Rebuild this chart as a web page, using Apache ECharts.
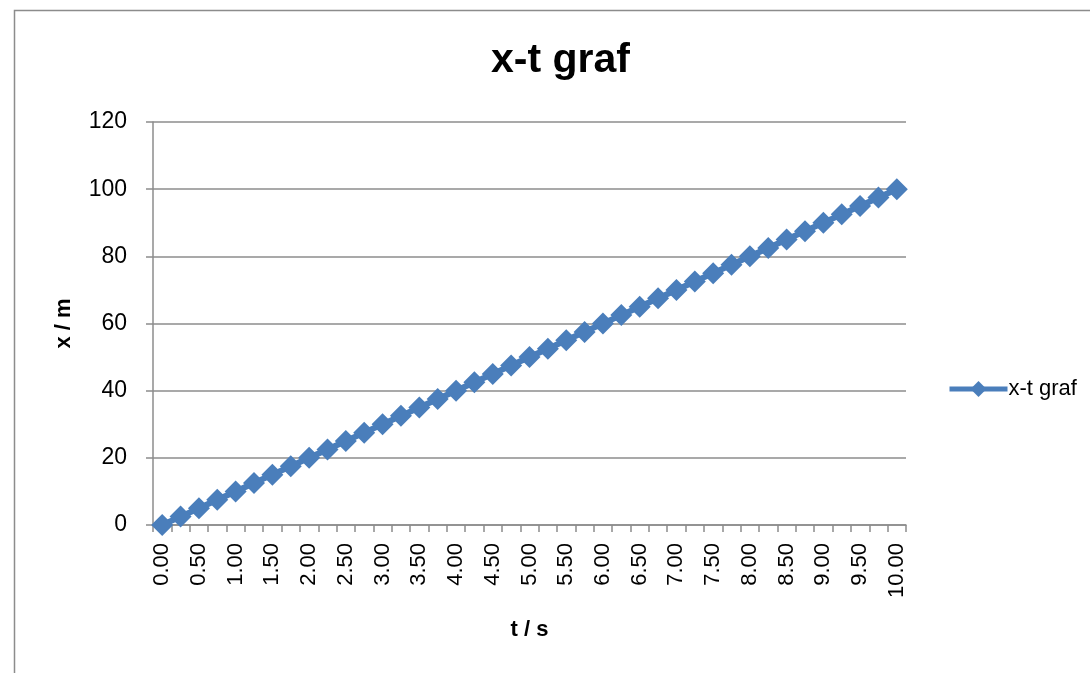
<!DOCTYPE html>
<html>
<head>
<meta charset="utf-8">
<script src="https://cdn.jsdelivr.net/npm/echarts@6/dist/echarts.min.js"></script>
<style>
html,body{margin:0;padding:0;background:#fff;}
#chart{width:1090px;height:673px;}
</style>
</head>
<body>
<div id="chart"></div>
<script>
// Data
const timeLabels = ["0.00","0.25","0.50","0.75","1.00","1.25","1.50","1.75","2.00","2.25","2.50","2.75","3.00","3.25","3.50","3.75","4.00","4.25","4.50","4.75","5.00","5.25","5.50","5.75","6.00","6.25","6.50","6.75","7.00","7.25","7.50","7.75","8.00","8.25","8.50","8.75","9.00","9.25","9.50","9.75","10.00"];
const positionValues = [0,2.5,5,7.5,10,12.5,15,17.5,20,22.5,25,27.5,30,32.5,35,37.5,40,42.5,45,47.5,50,52.5,55,57.5,60,62.5,65,67.5,70,72.5,75,77.5,80,82.5,85,87.5,90,92.5,95,97.5,100];
const seriesName = "x-t graf";
const chartTitle = "x-t graf";
const yAxisName = "x / m";
const xAxisName = "t / s";

const FONT = "'Liberation Sans', Arial, sans-serif";
const chart = echarts.init(document.getElementById('chart'), null, {renderer: 'canvas'});
chart.setOption({
  backgroundColor: '#fff',
  animation: false,
  graphic: [{
    type: 'rect',
    shape: {x: 14.5, y: 10.5, width: 1200, height: 800},
    style: {fill: 'none', stroke: '#8c8c8c', lineWidth: 1.5},
    silent: true
  }],
  title: {
    text: chartTitle,
    left: 486, top: 35,
    textStyle: {fontFamily: FONT, fontWeight: 'bold', fontSize: 41, color: '#000'}
  },
  legend: {
    data: [seriesName],
    left: 942, top: 373,
    itemWidth: 58, itemHeight: 20, itemGap: 4,
    lineStyle: {width: 5},
    textStyle: {fontFamily: FONT, fontSize: 22, color: '#000', padding: [0,0,0,-4]}
  },
  grid: {left: 153, top: 122, right: 184, bottom: 148, containLabel: false},
  xAxis: {
    type: 'category',
    data: timeLabels,
    boundaryGap: true,
    name: xAxisName,
    nameLocation: 'middle',
    nameGap: 94,
    nameTextStyle: {fontFamily: FONT, fontWeight: 'bold', fontSize: 22, color: '#000'},
    axisLine: {lineStyle: {color: '#8c8c8c', width: 1.5}},
    axisTick: {show: true, interval: 0, length: 7, lineStyle: {color: '#8c8c8c', width: 1.5}},
    axisLabel: {interval: 1, rotate: 90, margin: 18, fontFamily: FONT, fontSize: 22, color: '#000'},
    splitLine: {show: false}
  },
  yAxis: {
    type: 'value',
    min: 0, max: 120, interval: 20,
    name: yAxisName,
    nameLocation: 'middle',
    nameGap: 78,
    nameRotate: 90,
    nameTextStyle: {fontFamily: FONT, fontWeight: 'bold', fontSize: 22, color: '#000'},
    axisLine: {show: true, lineStyle: {color: '#8c8c8c', width: 1.5}},
    axisTick: {show: true, length: 7, inside: false, lineStyle: {color: '#8c8c8c', width: 1.5}},
    axisLabel: {margin: 26, fontFamily: FONT, fontSize: 23, color: '#000'},
    splitLine: {show: true, lineStyle: {color: '#8c8c8c', width: 1.5}}
  },
  series: [{
    name: seriesName,
    type: 'line',
    data: positionValues,
    symbol: 'diamond',
    symbolSize: [22, 22],
    showAllSymbol: true,
    color: '#4a7ebb',
    lineStyle: {color: '#4a7ebb', width: 6},
    itemStyle: {color: '#4a7ebb'}
  }]
});
</script>
</body>
</html>
